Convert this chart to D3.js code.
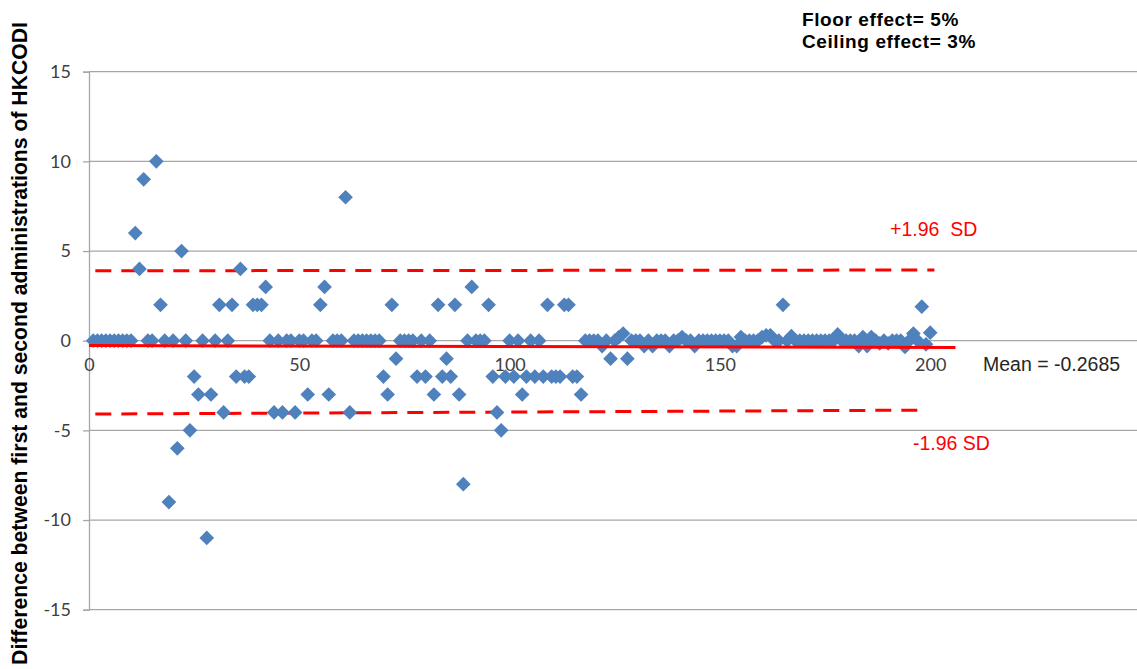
<!DOCTYPE html>
<html>
<head>
<meta charset="utf-8">
<script src="https://cdn.jsdelivr.net/npm/d3@7"></script>
<style>
  body { margin: 0; background: #fff; }
  svg { display: block; }
</style>
</head>
<body>
<svg id="chart"></svg>
<script>
(function () {
  'use strict';

  // difference (1st - 2nd administration) for subjects 1..200
  const differences = [
    0, 0, 0, 0, 0, 0, 0, 0, 0, 0,
    6, 4, 9, 0, 0, 10, 2, 0, -9, 0,
    -6, 5, 0, -5, -2, -3, 0, -11, -3, 0,
    2, -4, 0, 2, -2, 4, -2, -2, 2, 2,
    2, 3, 0, -4, 0, -4, 0, 0, -4, 0,
    0, -3, 0, 0, 2, 3, -3, 0, 0, 0,
    8, -4, 0, 0, 0, 0, 0, 0, 0, -2,
    -3, 2, -1, 0, 0, 0, 0, -2, 0, -2,
    0, -3, 2, -2, -1, -2, 2, -3, -8, 0,
    3, 0, 0, 0, 2, -2, -4, -5, -2, 0,
    -2, 0, -3, -2, 0, -2, 0, -2, 2, -2,
    -2, -2, 2, 2, -2, -2, -3, 0, 0, 0,
    0, -0.3, 0, -1, 0, 0.2, 0.4, -1, 0, 0,
    0, -0.3, 0, -0.3, 0, 0, 0, -0.3, 0, 0,
    0.2, 0, 0, -0.3, 0, 0, 0, 0, 0, 0,
    0, 0, -0.3, -0.3, 0.2, 0, 0, 0, 0, 0.2,
    0.3, 0.3, 0, 0, 2, 0, 0.25, 0, 0, 0,
    0, 0, 0, 0, 0, 0, 0, 0.35, 0, 0,
    0, 0, -0.3, 0.2, -0.3, 0.2, 0, -0.15, 0, -0.15,
    0, 0, 0, -0.35, 0, 0.4, 0, 1.9, -0.2, 0.45
  ];

  const xTicks = [0, 50, 100, 150, 200];
  const yTicks = [-15, -10, -5, 0, 5, 10, 15];

  // reference lines as drawn on the chart: [x start, x end], [y start, y end]
  const upperLimit = { x: [1.5, 201], y: [3.9, 3.94] };
  const lowerLimit = { x: [1.5, 199], y: [-4.09, -3.87] };
  const meanLine = { x: [0, 206], y: [-0.27, -0.38] };

  const notes = ["Floor effect= 5%", "Ceiling effect= 3%"];

  const width = 1137;
  const height = 669;

  const svg = d3.select("#chart")
    .attr("width", width)
    .attr("height", height);

  svg.append("rect")
    .attr("width", width)
    .attr("height", height)
    .attr("fill", "#fff");

  const x = d3.scaleLinear()
    .domain([0, 250])
    .range([89, 1140.5]);

  const y = d3.scaleLinear()
    .domain([-15, 15])
    .range([609.7, 71.7]);

  // gridlines
  svg.append("g")
    .selectAll("line")
    .data(yTicks)
    .join("line")
    .attr("x1", x(0))
    .attr("x2", width)
    .attr("y1", d => y(d))
    .attr("y2", d => y(d))
    .attr("stroke", "#a6a6a6")
    .attr("stroke-width", 1.3);

  // y axis
  const yAxis = svg.append("g")
    .attr("transform", `translate(${x(0)},0)`)
    .call(d3.axisLeft(y).tickValues(yTicks).tickFormat(d => String(d))
      .tickSize(6).tickPadding(12));
  yAxis.selectAll("path, line")
    .attr("stroke", "#a6a6a6")
    .attr("stroke-width", 1.3);
  yAxis.selectAll("text")
    .attr("font-family", "Lato, sans-serif")
    .attr("font-size", 18)
    .attr("fill", "#404040");

  // x axis labels sit under the zero line
  const xAxis = svg.append("g")
    .attr("transform", `translate(0,${y(0)})`)
    .call(d3.axisBottom(x).tickValues(xTicks).tickSize(0).tickPadding(18));
  xAxis.select(".domain").remove();
  xAxis.selectAll("text")
    .attr("font-family", "Lato, sans-serif")
    .attr("font-size", 18)
    .attr("fill", "#404040");

  // limits of agreement and mean
  function refLine(l, dashed) {
    svg.append("line")
      .attr("x1", x(l.x[0]))
      .attr("x2", x(l.x[1]))
      .attr("y1", y(l.y[0]))
      .attr("y2", y(l.y[1]))
      .attr("stroke", "#ff0000")
      .attr("stroke-width", 3)
      .attr("stroke-dasharray", dashed ? "16,10" : null);
  }
  refLine(upperLimit, true);
  refLine(lowerLimit, true);

  // points
  svg.append("g")
    .selectAll("path")
    .data(differences)
    .join("path")
    .attr("transform", (d, i) => `translate(${x(i + 1)},${y(d)}) rotate(45)`)
    .attr("d", d3.symbol().type(d3.symbolSquare).size(108))
    .attr("fill", "#4f81bd");

  refLine(meanLine, false);

  // labels
  const labelFont = "'Liberation Sans', Arial, sans-serif";
  svg.append("text")
    .attr("x", 890)
    .attr("y", 236)
    .attr("font-family", labelFont)
    .attr("font-size", 19.5)
    .attr("fill", "#ff0000")
    .attr("xml:space", "preserve")
    .text("+1.96  SD");

  svg.append("text")
    .attr("x", 913)
    .attr("y", 450)
    .attr("font-family", labelFont)
    .attr("font-size", 19.5)
    .attr("fill", "#ff0000")
    .text("-1.96 SD");

  svg.append("text")
    .attr("x", 983)
    .attr("y", 371)
    .attr("font-family", labelFont)
    .attr("font-size", 19.5)
    .attr("fill", "#262626")
    .text("Mean = -0.2685");

  svg.append("g")
    .selectAll("text")
    .data(notes)
    .join("text")
    .attr("x", 802)
    .attr("y", (d, i) => 26 + i * 21.5)
    .attr("font-family", labelFont)
    .attr("font-size", 19)
    .attr("letter-spacing", 0.6)
    .attr("font-weight", "bold")
    .attr("fill", "#000")
    .text(d => d);

  // y axis title
  svg.append("text")
    .attr("transform", "translate(27,343.5) rotate(-90)")
    .attr("text-anchor", "middle")
    .attr("font-family", labelFont)
    .attr("font-size", 21.2)
    .attr("font-weight", "bold")
    .attr("fill", "#000")
    .text("Difference between first and second administrations of HKCODI");

})();
</script>
</body>
</html>
